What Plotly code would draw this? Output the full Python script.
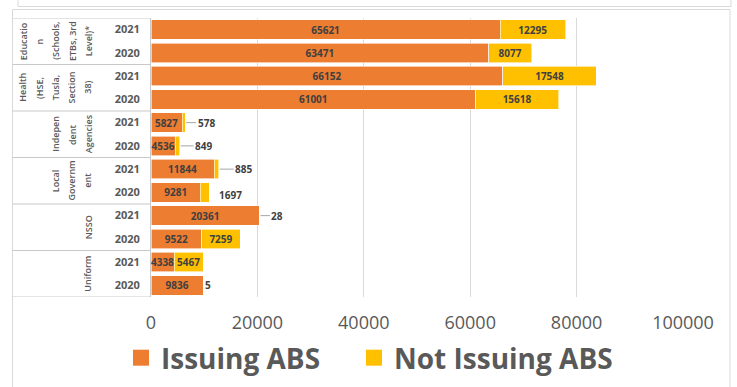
import plotly.graph_objects as go

# ---------------- data ----------------
groups = ["Education (Schools, ETBs, 3rd Level)*", "Health (HSE, Tusla, Section 38)",
          "Independent Agencies", "Local Government", "NSSO", "Uniform"]
group_lines = [["Educatio", "n", "(Schools,", "ETBs, 3rd", "Level)*"],
               ["Health", "(HSE,", "Tusla,", "Section", "38)"],
               ["Indepen", "dent", "Agencies"],
               ["Local", "Governm", "ent"],
               ["NSSO"],
               ["Uniform"]]
years = ["2021", "2020"]
issuing = [65621, 63471, 66152, 61001, 5827, 4536, 11844, 9281, 20361, 9522, 4338, 9836]
not_issuing = [12295, 8077, 17548, 15618, 578, 849, 885, 1697, 28, 7259, 5467, 5]
x_ticks = [0, 20000, 40000, 60000, 80000, 100000]

# ---------------- layout constants (pixels) ----------------
W, H = 737, 387
L, R, T, B = 151, 54, 18, 90
PW, PH = W - L - R, H - T - B

def px(xp):
    return (xp - L) / PW

def py(yp):
    return (H - B - yp) / PH

ORANGE = "#ED7D31"
YELLOW = "#FFC000"
GRAY = "#595959"
LINE = "#C9C9C9"
FONT = "Open Sans"

ypos = list(range(len(issuing)))
tick_text = [years[i % 2] for i in ypos]

fig = go.Figure()
fig.add_trace(go.Bar(
    x=issuing, y=ypos, orientation="h", name="Issuing ABS",
    marker=dict(color=ORANGE, line=dict(color="white", width=0.6)),
    text=[str(v) for v in issuing], textposition="inside", insidetextanchor="middle",
    textangle=0, constraintext="none",
    textfont=dict(family=FONT, size=10, color="#404040", weight="bold"),
    showlegend=False, hoverinfo="x+name"))
fig.add_trace(go.Bar(
    x=not_issuing, y=ypos, orientation="h", name="Not Issuing ABS",
    marker=dict(color=YELLOW, line=dict(color="white", width=0.6)),
    text=[str(v) if v >= 2000 else "" for v in not_issuing], textposition="inside",
    insidetextanchor="middle", textangle=0, constraintext="none",
    textfont=dict(family=FONT, size=10, color="#404040", weight="bold"),
    showlegend=False, hoverinfo="x+name"))

# legend entries (larger squares), one legend box each
for nm, col, lg in [("Issuing ABS", ORANGE, "legend"), ("Not Issuing ABS", YELLOW, "legend2")]:
    fig.add_trace(go.Scatter(x=[None], y=[None], mode="markers", name=nm, legend=lg,
                             marker=dict(symbol="square", size=18, color=col)))

annotations = []
# outside labels for small "not issuing" values
leader = {4: 21, 5: 24, 6: 25, 8: 18}
plain = {7: (8, -3), 11: (0, 0)}
for i, v in enumerate(not_issuing):
    if v >= 2000:
        continue
    total = issuing[i] + v
    if i in leader:
        annotations.append(dict(x=total, y=i, xref="x", yref="y", text=str(v),
                                showarrow=True, arrowhead=0, arrowwidth=1, arrowcolor="#A6A6A6",
                                ax=leader[i], ay=0, standoff=1,
                                font=dict(family=FONT, size=10, color="#404040", weight="bold")))
    else:
        dx, dy = plain.get(i, (0, 0))
        annotations.append(dict(x=total, y=i, xref="x", yref="y", text=str(v),
                                showarrow=False, xanchor="left", xshift=dx, yshift=dy,
                                font=dict(family=FONT, size=10, color="#404040", weight="bold")))

# rotated group labels
for g, lines in enumerate(group_lines):
    n = len(lines)
    yc = 2 * g + 0.5
    for j, t in enumerate(lines):
        xc = 88 - (n - 1 - j) * 16.25
        annotations.append(dict(x=px(xc), y=yc, xref="paper", yref="y", text=t,
                                showarrow=False, textangle=-90, xanchor="center", yanchor="middle",
                                font=dict(family=FONT, size=9, color=GRAY, weight=600)))

shapes = []
# group separators
for g in range(len(groups) + 1):
    yb = 2 * g - 0.5
    shapes.append(dict(type="line", xref="paper", yref="y", x0=px(12.5), x1=0, y0=yb, y1=yb,
                       line=dict(color=LINE, width=1)))
# chart frame boxes
shapes.append(dict(type="rect", xref="paper", yref="paper", x0=px(12.5), x1=px(730),
                   y0=py(395), y1=py(9.5), line=dict(color="#D9D9D9", width=1), layer="below"))
shapes.append(dict(type="rect", xref="paper", yref="paper", x0=px(18), x1=px(731),
                   y0=py(6.5), y1=py(-5), line=dict(color="#D9D9D9", width=1), layer="below"))

legend_style = dict(orientation="h", xanchor="left", yanchor="middle", y=py(358),
                    font=dict(family=FONT, size=28, color=GRAY, weight="bold"),
                    bgcolor="rgba(0,0,0,0)", itemsizing="trace")

fig.update_layout(
    width=W, height=H, margin=dict(l=L, r=R, t=T, b=B, autoexpand=False),
    barmode="stack", bargap=0.16,
    plot_bgcolor="white", paper_bgcolor="white",
    font=dict(family=FONT, color=GRAY),
    xaxis=dict(range=[0, 100000], tickvals=x_ticks, ticktext=[str(v) for v in x_ticks],
               showgrid=True, gridcolor="#D9D9D9", gridwidth=1, zeroline=False,
               showline=False, ticks="", ticklabelstandoff=13, automargin=False,
               tickfont=dict(family=FONT, size=18, color=GRAY)),
    yaxis=dict(range=[len(issuing) - 0.5, -0.5], tickvals=ypos, ticktext=tick_text,
               showgrid=False, zeroline=False, showline=True, linecolor=LINE, linewidth=1,
               ticks="", ticklabelstandoff=8, automargin=False,
               tickfont=dict(family=FONT, size=11, color=GRAY, weight="bold")),
    legend=dict(x=px(121), **legend_style),
    legend2=dict(x=px(354), **legend_style),
    annotations=annotations, shapes=shapes,
)

fig.write_html("out.html")
